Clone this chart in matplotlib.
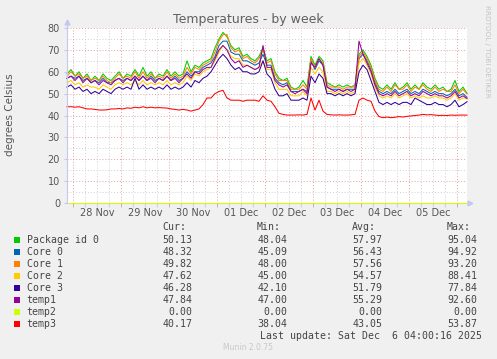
import pandas as pd
import matplotlib
matplotlib.use("Agg")
import matplotlib.pyplot as plt
import matplotlib.dates as mdates
from matplotlib.patches import Rectangle

W, H = 497, 359

names = ["Package id 0", "Core 0", "Core 1", "Core 2", "Core 3", "temp1", "temp2", "temp3"]
colors = ["#00cc00", "#0066b3", "#ff8000", "#ffcc00", "#330099", "#990099", "#ccff00", "#ff0000"]
cur = [50.13, 48.32, 49.82, 47.62, 46.28, 47.84, 0.00, 40.17]
mins = [48.04, 45.09, 48.00, 45.00, 42.10, 47.00, 0.00, 38.04]
avgs = [57.97, 56.43, 57.56, 54.57, 51.79, 55.29, 0.00, 43.05]
maxs = [95.04, 94.92, 93.20, 88.41, 77.84, 92.60, 0.00, 53.87]

# samples every 2 hours from Thu 27 Nov 21:00
times = pd.date_range("2025-11-27 21:00", periods=101, freq="2h")

pkg = [59, 61, 58, 60, 57, 59, 56, 58, 56, 59,
       57, 56, 58, 60, 57, 59, 58, 61, 58, 62,
       58, 60, 57, 59, 58, 61, 58, 60, 58, 59,
       65, 60, 63, 62, 64, 65, 66, 71, 75, 78,
       76, 72, 70, 71, 67, 68, 66, 65, 67, 71,
       65, 66, 60, 57, 56, 57, 53, 52, 53, 56,
       53, 67, 63, 67, 65, 55, 54, 53, 54, 53,
       54, 53, 54, 68, 70, 67, 63, 57, 53, 52,
       54, 52, 55, 52, 53, 55, 52, 54, 52, 55,
       53, 52, 54, 52, 53, 51, 52, 56, 51, 53,
       50.1]
core0 = [57, 58, 57, 58, 56, 57, 55, 56, 55, 57,
         55, 55, 56, 57, 56, 57, 56, 58, 56, 58,
         56, 58, 56, 57, 56, 58, 56, 58, 56, 57,
         60, 58, 60, 60, 62, 63, 64, 67, 72, 74,
         74, 69, 68, 68, 65, 65, 64, 63, 64, 68,
         63, 63, 57, 55, 54, 55, 51, 51, 51, 52,
         51, 65, 61, 65, 63, 53, 52, 52, 52, 51,
         52, 52, 52, 66, 68, 65, 61, 55, 51, 50,
         51, 50, 52, 50, 51, 52, 50, 51, 50, 52,
         51, 50, 51, 50, 50, 49, 50, 52, 49, 50,
         48.3]
core1 = [58, 60, 58, 59, 57, 58, 56, 57, 56, 58,
         56, 55, 57, 59, 57, 58, 57, 60, 57, 60,
         57, 59, 57, 58, 57, 60, 57, 59, 57, 58,
         62, 59, 62, 61, 63, 64, 65, 69, 74, 77,
         77, 71, 69, 70, 66, 67, 65, 64, 66, 70,
         64, 65, 59, 56, 56, 56, 52, 52, 52, 54,
         52, 66, 62, 66, 64, 54, 53, 53, 53, 52,
         53, 53, 53, 67, 69, 66, 62, 56, 52, 51,
         53, 51, 54, 52, 52, 54, 51, 53, 52, 54,
         52, 51, 53, 51, 52, 51, 51, 54, 50, 52,
         49.8]
core2 = [55, 56, 54, 55, 53, 54, 53, 53, 52, 54,
         53, 52, 54, 55, 54, 55, 54, 56, 54, 56,
         54, 55, 54, 55, 54, 56, 54, 55, 54, 55,
         58, 56, 59, 58, 60, 61, 62, 65, 69, 72,
         70, 67, 66, 66, 63, 63, 62, 61, 62, 65,
         61, 61, 55, 52, 52, 52, 49, 49, 49, 51,
         49, 62, 59, 62, 60, 51, 51, 50, 51, 50,
         51, 50, 51, 64, 66, 63, 59, 53, 49, 48,
         49, 48, 50, 48, 49, 50, 48, 49, 48, 49,
         48, 48, 49, 48, 48, 47, 48, 50, 47, 48,
         47.6]
core3 = [53, 54, 52, 53, 51, 52, 50, 51, 50, 52,
         51, 50, 52, 53, 52, 53, 52, 57, 52, 54,
         52, 53, 52, 53, 52, 54, 52, 53, 52, 53,
         55, 53, 56, 55, 57, 58, 60, 63, 66, 68,
         66, 63, 61, 62, 60, 60, 59, 59, 60, 65,
         59, 57, 52, 49, 49, 50, 47, 47, 47, 48,
         47, 58, 55, 59, 57, 50, 50, 49, 50, 49,
         50, 49, 50, 60, 63, 61, 56, 51, 46, 45,
         46, 45, 46, 45, 46, 46, 45, 48, 47, 46,
         45, 45, 46, 45, 45, 44, 45, 47, 44, 45,
         46.3]
temp1 = [57, 58, 56, 58, 55, 57, 55, 56, 54, 56,
         55, 54, 56, 57, 55, 57, 56, 58, 56, 58,
         56, 57, 55, 57, 56, 58, 56, 57, 55, 57,
         59, 57, 60, 59, 61, 62, 62, 66, 70, 72,
         70, 66, 64, 65, 62, 63, 62, 61, 62, 72,
         62, 62, 56, 54, 53, 54, 51, 50, 51, 52,
         50, 64, 62, 66, 63, 53, 52, 51, 52, 51,
         52, 51, 52, 74, 68, 64, 60, 54, 50, 49,
         50, 49, 51, 49, 50, 51, 49, 50, 49, 51,
         50, 49, 50, 49, 49, 48, 49, 51, 48, 49,
         47.8]
temp2 = [0.0] * 101
temp3 = [44, 44, 43.8, 44, 43.5, 43, 43, 42.8, 42.5, 42.5,
         42.6, 43, 43, 43.2, 43, 43.5, 43.3, 43.8, 43.5, 44,
         43.5, 43.8, 43.5, 43.6, 43.5, 43.4, 43, 42.8, 42.5, 42.8,
         42.5, 42, 42.5, 43, 45, 48, 48, 50, 51, 51.5,
         48, 47, 47, 47, 46.5, 47, 47, 47, 46.5, 49,
         47, 46.5, 44, 41, 40.5, 40.2, 40.2, 40.2, 40.3, 40.2,
         40.5, 48, 42.5, 47, 42, 40.5, 40.3, 40.2, 40.3, 40.2,
         40.2, 40.3, 40.5, 47, 48, 47, 46.5, 42, 39.5, 39,
         39.3, 39, 39.2, 39.5, 39.3, 39.6, 39.8, 40, 40.2, 40.5,
         40.3, 40.4, 40.2, 40, 40.1, 40, 40.2, 40.1, 40.2, 40.2,
         40.17]
series = [pkg, core0, core1, core2, core3, temp1, temp2, temp3]

bg = "#f0f0f0"
txt = "#555555"
red_grid = "#e6a0a0"
grey_grid = "#cfcfcf"
axis_col = "#c4c8f0"

fig = plt.figure(figsize=(W / 100, H / 100), dpi=100, facecolor=bg)
ax = fig.add_axes([67 / W, 1 - 203 / H, 400 / W, 175 / H])
ax.set_facecolor("white")

# grid
for v in range(5, 81, 5):
    ax.axhline(v, color=red_grid if v % 10 == 0 else grey_grid,
               ls=(0, (1, 2)), lw=0.7, zorder=0.5)
grid_times = pd.date_range("2025-11-28 00:00", "2025-12-06 00:00", freq="6h")
for t in grid_times:
    ax.axvline(t, color=red_grid if t.hour == 0 else grey_grid,
               ls=(0, (1, 2)), lw=0.7, zorder=0.5)
ax.vlines(grid_times, -0.02, 0, transform=ax.get_xaxis_transform(),
          colors=[red_grid if t.hour == 0 else grey_grid for t in grid_times],
          lw=0.7, clip_on=False)

for vals, c in zip(series, colors):
    ax.plot(times, vals, color=c, lw=0.75, clip_on=False, zorder=2)

ax.set_xlim(times[0], times[-1])
ax.set_ylim(0, 80)
ax.set_yticks(range(0, 81, 10))
ax.xaxis.set_major_locator(mdates.HourLocator(byhour=12))
ax.xaxis.set_major_formatter(mdates.DateFormatter("%d %b"))
ax.tick_params(axis="x", length=0, pad=3.6, labelsize=7, labelcolor=txt)
ax.tick_params(axis="y", length=2, pad=3, labelsize=7, labelcolor=txt, color=axis_col)

for s in ["top", "right", "bottom"]:
    ax.spines[s].set_visible(False)
ax.spines["left"].set_color(axis_col)
ax.spines["left"].set_linewidth(0.8)
# axis arrows
ax.plot([0, 0], [1, 1.03], transform=ax.transAxes, color=axis_col, lw=0.8, clip_on=False)
ax.plot([0], [1.035], marker="^", ms=3.5, color=axis_col, transform=ax.transAxes, clip_on=False)
ax.plot([1.0075], [0], marker=">", ms=3.5, color=axis_col, transform=ax.transAxes, clip_on=False)

fig.text(248.5 / W, 1 - 19 / H, "Temperatures - by week", ha="center", va="center",
         fontsize=9, color="#606060")
fig.text(10 / W, 1 - 115 / H, "degrees Celsius", rotation=90, ha="center", va="center",
         fontsize=7.5, color=txt)
fig.text(487 / W, 1 - 5 / H, "RRDTOOL / TOBI OETIKER", rotation=270, ha="center", va="top",
         fontsize=5.2, color="#c4c4c4")

# legend table
mono = "DejaVu Sans Mono"
lc = "#444444"
fs = 7.1
for lab, x in zip(["Cur:", "Min:", "Avg:", "Max:"], [162.7, 257, 352, 447]):
    fig.text(x / W, 1 - 227 / H, lab, family=mono, fontsize=fs, color=lc, ha="left", va="center")
for k, name in enumerate(names):
    y = 240 + 12 * k
    fig.add_artist(Rectangle((14 / W, 1 - (y + 3) / H), 6 / W, 6 / H,
                             transform=fig.transFigure, color=colors[k], lw=0))
    fig.text(26.7 / W, 1 - y / H, name, family=mono, fontsize=fs, color=lc, ha="left", va="center")
    for vals, x in zip([cur, mins, avgs, maxs], [192.3, 287.3, 382.3, 477]):
        fig.text(x / W, 1 - y / H, f"{vals[k]:.2f}", family=mono, fontsize=fs, color=lc,
                 ha="right", va="center")
fig.text(482.3 / W, 1 - 335.7 / H, "Last update: Sat Dec  6 04:00:16 2025", family=mono,
         fontsize=fs, color=lc, ha="right", va="center")
fig.text(247.7 / W, 1 - 347.7 / H, "Munin 2.0.75", fontsize=5.5, color="#c8c8c8",
         ha="center", va="center")

fig.savefig("out.png", dpi=100, facecolor=bg)
